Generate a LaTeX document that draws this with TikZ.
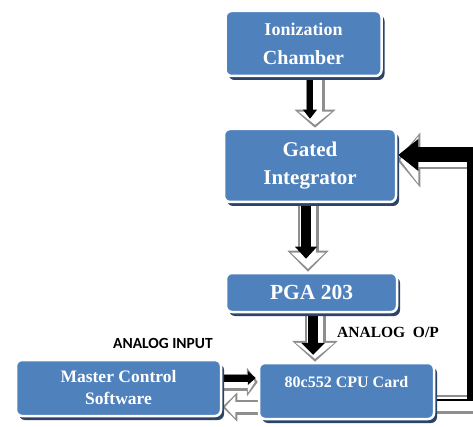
\documentclass[tikz,border=0pt]{standalone}
\usepackage{fontspec}
\setmainfont{Liberation Serif}
\newfontfamily\calib{Carlito}
\usetikzlibrary{arrows.meta,shadows,backgrounds,calc}
\definecolor{boxblue}{HTML}{4F81BD}
\definecolor{shadowblue}{HTML}{2B4468}
\definecolor{edgegray}{HTML}{8E8E8E}
\begin{document}
\begin{tikzpicture}[x=1pt,y=-1pt,
  box/.style={rounded corners=6pt, fill=boxblue, draw=white, line width=2.5pt,
    text=white, font=\bfseries, align=center, inner sep=0pt,
    drop shadow={shadow xshift=3pt, shadow yshift=-4pt, fill=shadowblue, opacity=1}},
  oarr/.style n args={3}{draw=edgegray, line width=#1, -{Triangle[width=#2, length=#3, line width=0pt]}},
  iarr/.style n args={3}{draw=white, line width=#1, shorten >=3pt, -{Triangle[width=#2, length=#3, line width=0pt]}},
  karr/.style n args={3}{draw=black, line width=#1, -{Triangle[width=#2, length=#3, line width=0pt]}},
  lbl/.style={anchor=base west, inner sep=0pt, text=black}]
\useasboundingbox (0,0) rectangle (473,427);

\node[box, minimum width=156pt, minimum height=65pt, font=\bfseries\fontsize{18}{29}\selectfont] (ion) at (303.5,43.5)
  {Ionization\\{\fontsize{20}{29}\selectfont Chamber}};
\node[box, minimum width=172pt, minimum height=73pt, font=\bfseries\fontsize{21}{28}\selectfont] (gated) at (310,165.5)
  {Gated\\Integrator};
\node[box, minimum width=171pt, minimum height=39pt, font=\bfseries\fontsize{21.5}{26}\selectfont] (pga) at (311.5,292.5)
  {PGA 203};
\node[box, minimum width=175pt, minimum height=56pt, text height=11pt, text depth=19pt,
  font=\bfseries\fontsize{16}{19}\selectfont] (cpu) at (346.5,391)
  {80c552 CPU Card};
\node[box, minimum width=205pt, minimum height=56pt, font=\bfseries\fontsize{17.5}{22}\selectfont] (master) at (118.5,388)
  {Master Control\\Software};

\node[lbl, font=\calib\bfseries\fontsize{15.5}{18}\selectfont] (lin) at (113,348) {ANALOG INPUT};
\node[lbl, font=\bfseries\fontsize{15.5}{18}\selectfont] (lout) at (337,337) {ANALOG\ \ O/P};

\coordinate (a1o) at (315,0); \coordinate (a1k) at (310,0);
\coordinate (a2o) at (308,0); \coordinate (a2k) at (306,0);
\coordinate (a3o) at (315,0); \coordinate (a3k) at (313,0);
\coordinate (a4o) at (0,382); \coordinate (a4k) at (0,378);
\coordinate (a5) at (0,407);
\coordinate (f1) at (477,404); \coordinate (f2) at (477,160);
\coordinate (k1) at (470,400); \coordinate (k2) at (470,155);

\begin{pgfonlayer}{background}
\fill[white] (0,0) rectangle (473,427);
\clip (0,0) rectangle (473,427);
% Ionization -> Gated
\draw[oarr={19pt}{41pt}{18pt}] (ion.south -| a1o) -- (gated.north -| a1o);
\draw[iarr={14pt}{33pt}{13pt}] (ion.south -| a1o) -- (gated.north -| a1o);
\draw[karr={6pt}{14pt}{9pt}] (ion.south -| a1k) -- ($(gated.north -| a1k)+(0,-9)$);
% Gated -> PGA
\draw[oarr={21pt}{41pt}{21pt}] (gated.south -| a2o) -- (pga.north -| a2o);
\draw[iarr={16pt}{34pt}{16pt}] (gated.south -| a2o) -- (pga.north -| a2o);
\draw[karr={10pt}{22pt}{12pt}] (gated.south -| a2k) -- ($(pga.north -| a2k)+(0,-13)$);
% PGA -> CPU
\draw[oarr={21pt}{46pt}{21pt}] (pga.south -| a3o) -- (cpu.north -| a3o);
\draw[iarr={16pt}{39pt}{16pt}] (pga.south -| a3o) -- (cpu.north -| a3o);
\draw[karr={10pt}{24pt}{12pt}] (pga.south -| a3k) -- ($(cpu.north -| a3k)+(0,-7)$);
% Master -> CPU
\draw[oarr={17pt}{29pt}{11pt}] (master.east |- a4o) -- (cpu.west |- a4o);
\draw[iarr={12pt}{22pt}{7pt}] (master.east |- a4o) -- (cpu.west |- a4o);
\draw[karr={7pt}{14pt}{8pt}] (master.east |- a4k) -- ($(cpu.west |- a4k)+(-2,0)$);
% CPU -> Master
\draw[oarr={15pt}{29pt}{15pt}] (cpu.west |- a5) -- (master.east |- a5);
\draw[iarr={10pt}{22pt}{10pt}] (cpu.west |- a5) -- (master.east |- a5);
% Feedback CPU -> Gated
\draw[oarr={19pt}{55pt}{23pt}, line join=miter] (cpu.east |- f1) -- (f1) -- (f2) -- (gated.east |- f2);
\draw[iarr={14pt}{47pt}{18pt}, line join=miter] (cpu.east |- f1) -- (f1) -- (f2) -- (gated.east |- f2);
\draw[black, line width=2.5pt] (cpu.east |- k1) -- (k1);
\draw[black, line width=6pt] ($(k1)+(0,1.25)$) -- ($(k2)+(0,-7.5)$);
\draw[karr={15pt}{32pt}{20pt}] ($(k2)+(3,0)$) -- ($(gated.east |- k2)+(1,0)$);
\end{pgfonlayer}
\end{tikzpicture}
\end{document}
